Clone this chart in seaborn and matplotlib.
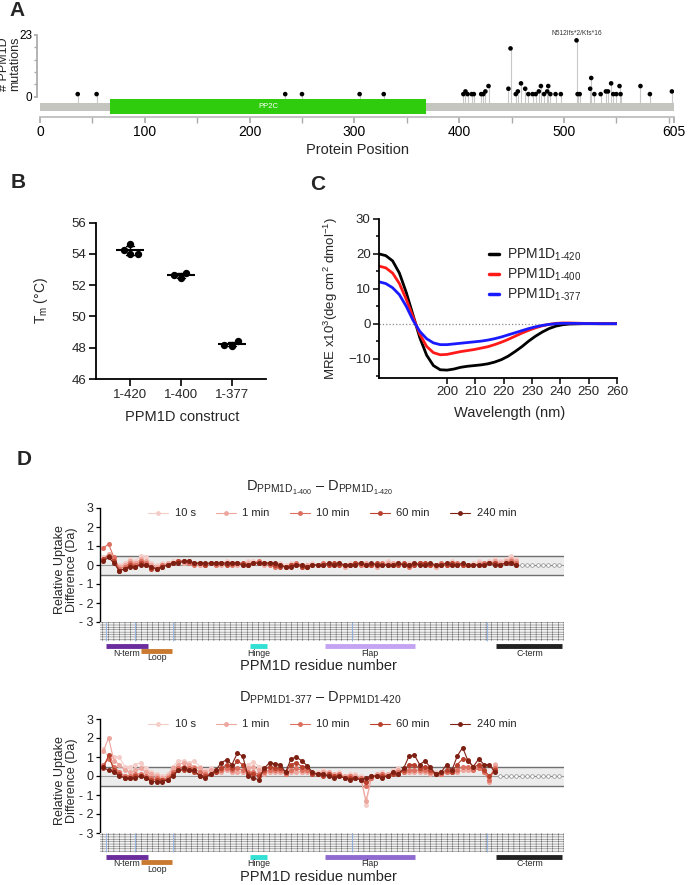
import numpy as np
import pandas as pd
import matplotlib
matplotlib.use('Agg')
import matplotlib.pyplot as plt
import seaborn as sns
from matplotlib.patches import Rectangle
from matplotlib.lines import Line2D

sns.set_theme(style='ticks')
plt.rcParams['font.family'] = ['Liberation Sans', 'DejaVu Sans']
plt.rcParams['mathtext.fontset'] = 'custom'
plt.rcParams['mathtext.rm'] = 'Liberation Sans'
plt.rcParams['hatch.linewidth'] = 0.35

# ---------------- data ----------------
# A: lollipop of PPM1D mutations
protein_len = 605
mut_pos = [36, 54, 234, 250, 305, 328, 404, 406, 408, 412, 414, 421, 423, 425, 428,
           447, 449, 454, 456, 459, 463, 466, 470, 473, 476, 478, 481, 484, 485, 487,
           492, 497, 512, 513, 515, 525, 526, 529, 535, 540, 542, 545, 547, 550, 553,
           554, 573, 582, 603]
mut_cnt = [1, 1, 1, 1, 1, 1, 1, 2, 1, 1, 1, 1, 1, 2, 4,
           3, 18, 1, 2, 5, 3, 1, 1, 1, 2, 4, 1, 2, 4, 1,
           1, 1, 21, 1, 1, 3, 7, 1, 1, 2, 2, 5, 1, 1, 4,
           1, 4, 1, 2]
domain_name = 'PP2C'
domain_start, domain_end = 67, 368
hotspot_label = 'N512Ifs*2/Kfs*16'

# B: melting temperatures
constructs = ['1-420', '1-400', '1-377']
tm_420 = [54.0, 54.25, 54.65, 54.0]
tm_400 = [52.45, 52.8, 52.65]
tm_377 = [48.1, 48.4, 48.2]

# C: CD spectra
wavelength = [176.0, 178.4, 180.8, 183.2, 185.6, 188.0, 190.4, 192.8, 195.2, 197.6, 200.0,
              202.4, 204.8, 207.2, 209.6, 212.0, 214.4, 216.8, 219.2, 221.6, 224.0, 226.4,
              228.8, 231.2, 233.6, 236.0, 238.4, 240.8, 243.2, 248.0, 254.0, 260.0]
mre_420 = [20.0, 19.5, 18.0, 14.5, 9.0, 2.5, -4.0, -9.0, -12.0, -13.2, -13.3, -13.0, -12.5, -12.2,
           -12.0, -11.8, -11.5, -11.0, -10.3, -9.3, -8.0, -6.6, -5.0, -3.6, -2.4, -1.4, -0.7,
           -0.3, -0.1, 0.0, 0.0, 0.0]
mre_400 = [16.5, 16.0, 14.5, 11.5, 7.0, 2.0, -3.0, -6.5, -8.3, -8.9, -8.8, -8.4, -8.0, -7.7,
           -7.4, -7.0, -6.6, -6.0, -5.3, -4.5, -3.6, -2.7, -1.9, -1.2, -0.6, -0.2, 0.1, 0.2,
           0.2, 0.1, 0.0, 0.0]
mre_377 = [12.0, 11.5, 10.3, 8.3, 5.0, 1.0, -2.2, -4.3, -5.5, -6.0, -6.0, -5.8, -5.6, -5.4,
           -5.2, -5.0, -4.7, -4.3, -3.8, -3.2, -2.6, -2.0, -1.4, -0.9, -0.5, -0.2, 0.0, 0.1,
           0.1, 0.05, 0.0, 0.0]

# D: HDX uptake differences per peptide
time_labels = ['10 s', '1 min', '10 min', '60 min', '240 min']
time_colors = ['#f5cdc8', '#eca69d', '#dc6f5f', '#b8402d', '#7d2013']
n_peptides = 86

top_10s = [0.4, 0.5, 0.2, 0.0, 0.1, 0.3, 0.2, 0.5, 0.4, 0.1,
           0.0, 0.1, 0.1, 0.2, 0.2, 0.1, 0.2, 0.1, 0.0, 0.1,
           0.1, 0.0, 0.1, 0.2, 0.1, 0.1, 0.0, 0.2, 0.2, 0.1,
           0.1, 0.1, 0.0, 0.1, 0.0, 0.1, 0.0, -0.1, 0.0, 0.1,
           0.0, 0.1, 0.1, 0.0, 0.1, 0.0, 0.1, 0.0, 0.1, 0.1,
           0.0, 0.0, 0.1, 0.2, 0.1, 0.1, 0.0, 0.1, 0.1, 0.1,
           0.1, 0.0, 0.0, 0.1, 0.1, 0.2, 0.1, 0.1, 0.0, 0.1,
           0.2, 0.1, 0.2, 0.3, 0.2, 0.3, 0.5, 0.3]
top_1min = [0.3, 0.6, 0.3, -0.1, 0.0, 0.2, 0.1, 0.3, 0.2, 0.0,
            -0.1, 0.0, 0.1, 0.1, 0.2, 0.1, 0.1, 0.1, 0.0, 0.0,
            0.1, 0.0, 0.0, 0.1, 0.1, 0.0, 0.0, 0.1, 0.1, 0.1,
            0.0, 0.1, 0.0, 0.0, -0.1, 0.0, 0.0, -0.1, 0.0, 0.0,
            0.0, 0.0, 0.1, 0.0, 0.0, -0.1, 0.0, 0.0, 0.0, 0.1,
            0.0, -0.1, 0.0, 0.1, 0.1, 0.0, 0.0, 0.0, 0.1, 0.0,
            0.0, 0.0, -0.1, 0.0, 0.1, 0.1, 0.0, 0.0, 0.0, 0.0,
            0.1, 0.1, 0.1, 0.2, 0.1, 0.2, 0.3, 0.2]
top_10min = [0.9, 1.1, 0.4, -0.2, -0.1, 0.1, 0.0, 0.2, 0.1, -0.1,
             -0.2, 0.0, 0.0, 0.1, 0.2, 0.2, 0.1, 0.0, 0.1, 0.0,
             0.1, 0.0, 0.1, 0.1, 0.0, 0.1, 0.0, 0.0, 0.1, 0.2,
             0.1, 0.0, -0.1, 0.0, -0.1, 0.0, 0.1, 0.0, -0.1, 0.0,
             0.0, 0.1, 0.0, 0.0, 0.1, 0.0, 0.0, 0.1, 0.0, 0.0,
             0.0, 0.0, 0.1, 0.0, 0.0, 0.1, 0.0, -0.1, 0.0, 0.1,
             0.0, 0.0, 0.0, 0.1, 0.0, 0.0, 0.1, 0.0, 0.0, 0.0,
             0.0, 0.1, 0.1, 0.1, 0.0, 0.1, 0.2, 0.1]
top_60min = [0.3, 0.5, 0.2, -0.3, -0.2, 0.0, -0.1, 0.1, 0.0, -0.2,
             -0.2, -0.1, 0.0, 0.1, 0.2, 0.2, 0.2, 0.1, 0.1, 0.0,
             0.1, 0.1, 0.1, 0.0, 0.1, 0.1, 0.1, 0.0, 0.1, 0.1,
             0.1, 0.1, 0.0, -0.1, -0.1, 0.0, 0.0, -0.1, -0.1, 0.0,
             0.0, 0.0, 0.0, 0.1, 0.0, 0.0, 0.0, 0.1, 0.1, 0.0,
             0.0, 0.1, 0.0, 0.0, 0.0, 0.0, 0.1, 0.0, 0.0, 0.1,
             0.1, 0.0, 0.0, 0.0, 0.0, 0.1, 0.0, 0.0, 0.0, 0.0,
             0.0, 0.0, 0.1, 0.1, 0.0, 0.1, 0.1, 0.0]
top_240min = [0.2, 0.4, 0.1, -0.3, -0.2, -0.1, -0.1, 0.0, 0.0, -0.1,
              -0.2, -0.1, 0.0, 0.1, 0.1, 0.2, 0.2, 0.1, 0.1, 0.1,
              0.1, 0.1, 0.1, 0.1, 0.1, 0.1, 0.0, 0.0, 0.1, 0.1,
              0.1, 0.1, 0.1, 0.0, -0.1, -0.1, 0.0, 0.0, -0.1, 0.0,
              0.0, 0.0, 0.1, 0.0, 0.1, 0.0, 0.0, 0.0, 0.1, 0.0,
              0.1, 0.0, 0.0, 0.0, 0.0, 0.1, 0.0, 0.0, 0.1, 0.0,
              0.0, 0.1, 0.0, 0.0, 0.1, 0.0, 0.0, 0.1, 0.0, 0.0,
              0.0, 0.0, 0.1, 0.0, 0.0, 0.1, 0.1, 0.0]

bot_10s = [1.4, 1.0, 1.0, 1.0, 0.5, 0.45, 0.6, 0.7, 0.4, 0.2,
           0.1, 0.0, 0.1, 0.5, 0.8, 0.8, 0.7, 0.8, 0.5, 0.3,
           0.4, 0.3, 0.3, 0.4, 0.2, 0.3, 0.2, 0.6, 0.75, 0.5,
           0.2, 0.3, 0.3, 0.2, 0.2, 0.3, 0.3, 0.2, 0.3, 0.2,
           0.2, 0.3, 0.2, 0.1, 0.2, 0.0, 0.1, 0.1, 0.0, -1.5,
           0.0, 0.1, 0.2, 0.1, 0.3, 0.4, 0.2, 0.2, 0.2, 0.3,
           0.2, 0.2, 0.2, 0.1, 0.2, 0.3, 0.2, 0.3, 0.3, 0.4,
           0.65, 0.3, -0.2, 0.65]
bot_1min = [1.3, 2.0, 0.8, 0.6, 0.3, 0.2, 0.3, 0.4, 0.2, 0.1,
            0.0, -0.1, 0.0, 0.4, 0.6, 0.7, 0.6, 0.5, 0.4, 0.2,
            0.3, 0.3, 0.2, 0.3, 0.2, 0.2, 0.2, 0.4, 0.5, 0.3,
            0.1, 0.2, 0.2, 0.2, 0.1, 0.2, 0.2, 0.2, 0.2, 0.1,
            0.1, 0.2, 0.2, 0.1, 0.1, 0.0, 0.0, 0.0, -0.1, -1.3,
            -0.1, 0.1, 0.1, 0.1, 0.2, 0.3, 0.2, 0.2, 0.2, 0.2,
            0.2, 0.1, 0.1, 0.1, 0.2, 0.2, 0.2, 0.3, 0.3, 0.3,
            0.5, 0.2, -0.3, 0.6]
bot_10min = [0.6, 0.9, 0.5, 0.2, 0.0, 0.0, 0.1, 0.1, 0.0, -0.1,
             -0.1, -0.2, -0.1, 0.2, 0.4, 0.5, 0.4, 0.4, 0.2, 0.1,
             0.1, 0.2, 0.3, 0.4, 0.3, 0.4, 0.3, 0.2, 0.2, 0.1,
             0.2, 0.3, 0.3, 0.3, 0.1, 0.3, 0.4, 0.3, 0.3, 0.1,
             0.1, 0.1, 0.1, 0.0, 0.1, -0.1, 0.0, -0.1, -0.1, -0.5,
             -0.1, 0.0, 0.1, 0.0, 0.1, 0.2, 0.2, 0.3, 0.3, 0.3,
             0.3, 0.2, 0.1, 0.1, 0.2, 0.2, 0.3, 0.5, 0.5, 0.3,
             0.4, 0.2, -0.2, 0.4]
bot_60min = [0.4, 1.1, 0.3, 0.1, -0.1, -0.1, 0.0, 0.0, -0.1, -0.2,
             -0.2, -0.2, -0.2, 0.1, 0.3, 0.3, 0.3, 0.2, 0.0, 0.0,
             0.1, 0.2, 0.4, 0.6, 0.4, 0.8, 0.6, 0.1, 0.1, 0.0,
             0.3, 0.5, 0.4, 0.4, 0.2, 0.6, 0.7, 0.5, 0.5, 0.1,
             0.1, 0.0, 0.1, 0.0, 0.0, -0.1, -0.1, -0.1, -0.2, -0.3,
             0.0, 0.0, 0.0, 0.0, 0.1, 0.1, 0.3, 0.6, 0.6, 0.4,
             0.5, 0.3, 0.1, 0.2, 0.3, 0.2, 0.6, 0.9, 0.85, 0.45,
             0.6, 0.3, 0.0, 0.3]
bot_240min = [0.45, 0.3, 0.2, 0.0, -0.1, -0.1, -0.1, 0.0, -0.1, -0.3,
              -0.3, -0.3, -0.2, 0.0, 0.3, 0.4, 0.3, 0.3, 0.0, -0.1,
              0.1, 0.3, 0.7, 0.85, 0.6, 1.2, 1.05, 0.0, -0.1, -0.2,
              0.4, 0.7, 0.65, 0.6, 0.2, 0.9, 1.0, 0.8, 0.55, 0.2,
              0.1, 0.1, 0.0, -0.1, 0.0, -0.1, -0.2, -0.1, -0.2, -0.1,
              0.0, 0.0, -0.1, 0.0, 0.2, 0.1, 0.4, 1.05, 1.1, 0.6,
              0.8, 0.45, 0.1, 0.2, 0.6, 0.3, 1.05, 1.5, 0.8, 0.5,
              0.9, 0.6, 0.6, 0.2]

# domains along the peptide axis
dom_names = ['N-term', 'Loop', 'Hinge', 'Flap', 'C-term']
dom_start = [0.6, 7.0, 27.4, 41.3, 73.3]
dom_end = [8.3, 12.9, 30.5, 58.1, 85.6]
dom_row = [0, 1, 0, 0, 0]
dom_colors_top = ['#6b2d9e', '#c97a30', '#32e0d4', '#c4a4f2', '#222222']
dom_colors_bot = ['#6b2d9e', '#c97a30', '#32e0d4', '#8f6ad0', '#222222']
cov_breaks = [0.6, 5.9, 13.1, 46.3, 71.5]

# ---------------- figure ----------------
W, H = 698, 885
fig = plt.figure(figsize=(W / 100, H / 100), dpi=100)


def box(x0, y0, x1, y1):
    return [x0 / W, 1 - y1 / H, (x1 - x0) / W, (y1 - y0) / H]


def flabel(x, y, s, **kw):
    fig.text(x / W, 1 - y / H, s, **kw)


for lab, (x, y) in zip('ABCD', [(17, 11), (18, 183), (318, 185), (24, 459)]):
    flabel(x, y, lab, fontsize=15, fontweight='bold', ha='center', va='center')

# ---- A ----
axA = fig.add_axes(box(40, 33, 674, 117))
axA.set_xlim(0, protein_len)
axA.set_ylim(-7.52, 23.74)
axA.add_patch(Rectangle((0, -5.17), protein_len, 2.97, color='#c5c5c0', lw=0, zorder=2))
axA.add_patch(Rectangle((domain_start, -6.4), domain_end - domain_start, 5.47,
                        color='#2fcc0e', lw=0, zorder=2))
axA.text((domain_start + domain_end) / 2, -3.7, domain_name, color='white',
         fontsize=5.5, ha='center', va='center', zorder=3)
axA.vlines(mut_pos, -2.2, mut_cnt, color='#c8c8c8', lw=0.8, zorder=1)
sns.scatterplot(x=mut_pos, y=mut_cnt, ax=axA, color='black', s=11,
                edgecolor='none', zorder=3, legend=False)
top_i = int(np.argmax(mut_cnt))
axA.text(mut_pos[top_i], mut_cnt[top_i] + 2.5, hotspot_label, fontsize=4.8,
         ha='center', va='center', color='#333')
sns.despine(ax=axA)
axA.spines['left'].set_bounds(0, 23)
axA.spines['left'].set_position(('outward', 2))
axA.spines['left'].set_color('#aaaaaa')
axA.spines['bottom'].set_color('#bbbbbb')
axA.set_yticks([0, 23])
axA.set_yticks(np.linspace(0, 23, 6), minor=True)
axA.set_xticks([0, 100, 200, 300, 400, 500, 605])
axA.set_xticks([50, 150, 250, 350, 450, 550, 600], minor=True)
axA.tick_params(axis='both', which='both', color='#aaaaaa', length=4, labelsize=10,
                labelcolor='black', pad=2)
axA.tick_params(axis='y', which='both', length=2.5, pad=1, labelsize=8.5)
flabel(10, 64, '# PPM1D\nmutations', fontsize=9, linespacing=0.9, rotation=90,
       ha='center', va='center')
flabel(357, 150, 'Protein Position', fontsize=10.5, ha='center', va='center')

# ---- B ----
axB = fig.add_axes(box(96, 222.7, 266, 379))
dfB = pd.DataFrame({
    'construct': [constructs[0]] * len(tm_420) + [constructs[1]] * len(tm_400)
    + [constructs[2]] * len(tm_377),
    'tm': tm_420 + tm_400 + tm_377})
sns.swarmplot(data=dfB, x='construct', y='tm', order=constructs, color='black',
              size=5.3, ax=axB, zorder=3)
sns.pointplot(data=dfB, x='construct', y='tm', order=constructs, errorbar='sd',
              color='black', marker='_', markersize=20, markeredgewidth=1.5,
              linestyle='none', capsize=0.16, err_kws={'linewidth': 1.0}, ax=axB)
axB.set_xlim(-0.67, 2.67)
axB.set_ylim(46, 56)
axB.set_yticks([46, 48, 50, 52, 54, 56])
sns.despine(ax=axB)
for s in ['left', 'bottom']:
    axB.spines[s].set_linewidth(1.3)
    axB.spines[s].set_color('black')
axB.tick_params(length=5, width=1.2, labelsize=9.5, color='black', pad=2)
axB.set_xlabel('')
axB.set_ylabel(r'$\mathregular{T_m}$ (°C)', fontsize=10)
axB.yaxis.set_label_coords(-0.27, 0.5)
flabel(182, 417, 'PPM1D construct', fontsize=10.5, ha='center', va='center')

# ---- C ----
axC = fig.add_axes(box(379, 219, 617, 378))
dfC = pd.DataFrame({
    'wl': wavelength * 3,
    'mre': mre_420 + mre_400 + mre_377,
    'construct': ['1-420'] * len(wavelength) + ['1-400'] * len(wavelength)
    + ['1-377'] * len(wavelength)})
c_colors = ['black', '#ff1a1a', '#1a1aff']
sns.lineplot(data=dfC, x='wl', y='mre', hue='construct', hue_order=constructs,
             palette=c_colors, lw=2, ax=axC, legend=False)
axC.axhline(0, ls=':', color='#888888', lw=0.9, zorder=0)
axC.set_xlim(176, 260)
axC.set_ylim(-15.56, 30)
axC.set_xticks([200, 210, 220, 230, 240, 250, 260])
axC.set_yticks([-10, 0, 10, 20, 30])
axC.set_yticks([-15, -5, 5, 15, 25], minor=True)
sns.despine(ax=axC)
for s in ['left', 'bottom']:
    axC.spines[s].set_linewidth(1.3)
    axC.spines[s].set_color('black')
axC.tick_params(which='both', length=4, width=1.1, labelsize=9.5, color='black', pad=2)
axC.tick_params(which='minor', length=2.5)
axC.set_xlabel('')
axC.set_ylabel(r'MRE x10$^{3}$(deg cm$^{2}$ dmol$^{-1}$)', fontsize=9.5)
axC.yaxis.set_label_coords(-0.165, 0.5)
handles = [Line2D([0], [0], color=c, lw=2.5) for c in c_colors]
labels = [r'PPM1D$_{\mathregular{1‐420}}$', r'PPM1D$_{\mathregular{1‐400}}$',
          r'PPM1D$_{\mathregular{1‐377}}$']
axC.legend(handles, labels, loc='upper left', bbox_to_anchor=(0.44, 0.86), frameon=False,
           fontsize=10, handlelength=0.7, handletextpad=0.6, labelspacing=0.25,
           borderaxespad=0)
flabel(510, 413, 'Wavelength (nm)', fontsize=10.5, ha='center', va='center')

# ---- D ----
xlimD = (-0.6, 85.9)


def hdx_panel(y_top, y_bot, series, title, title_y, cov_bot, bar_y, flap_colors):
    ax = fig.add_axes(box(100, y_top, 564, y_bot))
    n_data = len(series[0])
    df = pd.concat([pd.DataFrame({'peptide': np.arange(n_data), 'diff': vals, 'time': lab})
                    for vals, lab in zip(series, time_labels)])
    ax.axhspan(-0.5, 0.5, color='#ececec', zorder=0, lw=0)
    ax.axhline(0.5, color='#6f6f6f', lw=1.0, zorder=1)
    ax.axhline(-0.5, color='#6f6f6f', lw=1.0, zorder=1)
    ax.axhline(0, color='#9a9a9a', lw=0.8, zorder=1)
    tail = np.arange(n_data, n_peptides)
    ax.plot(tail, np.zeros(len(tail)), color='#8a8a8a', lw=0.5, marker='o', markersize=2.6,
            markerfacecolor='white', markeredgewidth=0.5, zorder=2)
    sns.lineplot(data=df, x='peptide', y='diff', hue='time', hue_order=time_labels,
                 palette=time_colors, marker='o', markersize=3.6, markeredgewidth=0,
                 lw=0.8, ax=ax, legend=False, zorder=3)
    ax.set_xlim(*xlimD)
    ax.set_ylim(-3, 3)
    ax.set_yticks([-3, -2, -1, 0, 1, 2, 3])
    ax.set_yticklabels(['- 3', '- 2', '- 1', '0', '1', '2', '3'])
    ax.set_xticks([])
    ax.set_xlabel('')
    ax.set_ylabel('')
    sns.despine(ax=ax, bottom=True)
    ax.spines['left'].set_linewidth(1.0)
    ax.spines['left'].set_color('black')
    ax.tick_params(axis='y', length=3, width=0.9, labelsize=9, color='black', pad=2)
    hs = [Line2D([0], [0], color=c, lw=0.8, marker='o', markersize=3.5, markeredgewidth=0)
          for c in time_colors]
    ax.legend(hs, time_labels, loc='upper center', bbox_to_anchor=(0.5, 1.035), ncol=5,
              frameon=False, fontsize=8, handlelength=1.8, columnspacing=1.8,
              handletextpad=0.6, borderaxespad=0)
    flabel(320, title_y, title, fontsize=10.5, ha='center', va='center')
    flabel(66, (y_top + y_bot) / 2 + 5, 'Relative Uptake\nDifference (Da)', fontsize=9,
           rotation=90, ha='center', va='center', linespacing=1.0)

    # peptide coverage map and domain bars
    lo = fig.add_axes(box(100, y_bot, 564, y_bot + 52))
    lo.set_xlim(*xlimD)
    lo.set_ylim(y_bot + 52, y_bot)
    lo.axis('off')
    lo.add_patch(Rectangle((xlimD[0], y_bot), xlimD[1] - xlimD[0], cov_bot - y_bot,
                           facecolor='#f2f2f2', edgecolor='#6a6a6a', hatch='-------|||',
                           lw=0))
    lo.vlines(cov_breaks, y_bot, cov_bot, color='#8fb1e8', lw=0.6)
    for name, s, e, row, c in zip(dom_names, dom_start, dom_end, dom_row, flap_colors):
        yb = bar_y + 5 * row
        lo.hlines(yb, s, e, color=c, lw=3.5)
        lo.text((s + e) / 2, yb + 7, name, fontsize=6.3, ha='center', va='center')
    return ax


hdx_panel(508, 622, [top_10s, top_1min, top_10min, top_60min, top_240min],
          r'$\mathregular{D_{PPM1D_{1‐400}}}$ – $\mathregular{D_{PPM1D_{1‐420}}}$',
          488, 641, 646, dom_colors_top)
flabel(318, 666, 'PPM1D residue number', fontsize=10.5, ha='center', va='center')

hdx_panel(719, 833, [bot_10s, bot_1min, bot_10min, bot_60min, bot_240min],
          r'$\mathregular{D_{PPM1D1‐377}}$ – $\mathregular{D_{PPM1D1‐420}}$',
          698, 852, 857, dom_colors_bot)
flabel(318, 877, 'PPM1D residue number', fontsize=10.5, ha='center', va='center')

fig.savefig('out.png', dpi=100)
